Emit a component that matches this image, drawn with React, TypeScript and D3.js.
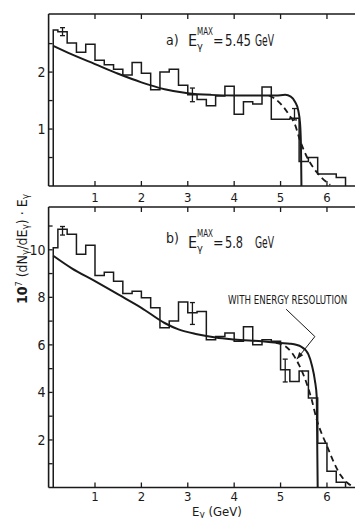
import React from 'react';
import * as d3 from 'd3';

const W = 355;
const H = 518;

// Bin edges of the measured photon spectra (GeV)
const binEdges = [
  0.1, 0.2, 0.4, 0.6, 0.8, 1.0, 1.2, 1.4, 1.6, 1.8, 2.0, 2.2, 2.4, 2.6, 2.8, 3.0, 3.2,
  3.4, 3.6, 3.8, 4.0, 4.2, 4.4, 4.6, 4.8, 5.0, 5.2, 5.4, 5.6, 5.8, 6.0, 6.2, 6.4,
];

// a) E_max = 5.45 GeV : measured histogram
const histA = [
  2.74, 2.71, 2.51, 2.35, 2.49, 2.21, 2.13, 2.05, 1.95, 2.17, 1.98, 1.69, 2.0, 2.05, 1.77, 1.6,
  1.52, 1.41, 1.58, 1.75, 1.26, 1.48, 1.44, 1.74, 1.17, 1.17, 1.19, 0.43, 0.5, 0.21, 0.21, 0.15,
];
// b) E_max = 5.8 GeV : measured histogram
const histB = [
  10.09, 10.86, 10.65, 9.81, 10.19, 8.92, 9.06, 8.68, 8.16, 8.26, 7.98, 7.56, 6.72, 7.0, 7.8, 7.35,
  7.4, 6.22, 6.35, 6.5, 6.15, 6.76, 6.01, 6.22, 6.15, 4.95, 4.46, 4.9, 3.77, 1.86, 0.68, 0.22,
];

// Calculated spectra (solid: ideal, dashed: folded with energy resolution)
const theoryA: [number, number][] = [
  [0.1, 2.46], [0.5, 2.31], [1.0, 2.14], [1.5, 1.97], [2.0, 1.82], [2.5, 1.7], [3.0, 1.63],
  [3.5, 1.6], [4.0, 1.59], [4.5, 1.59], [4.9, 1.59], [5.1, 1.6], [5.22, 1.57], [5.31, 1.48],
  [5.38, 1.33], [5.42, 1.1], [5.44, 0.69], [5.45, 0],
];
const resolvedA: [number, number][] = [
  [4.75, 1.59], [4.9, 1.52], [5.05, 1.4], [5.2, 1.23], [5.3, 1.1], [5.42, 0.8], [5.55, 0.54],
  [5.7, 0.33], [5.88, 0.15], [6.07, 0.02],
];
const theoryB: [number, number][] = [
  [0.1, 9.75], [0.5, 9.22], [1.0, 8.68], [1.5, 8.12], [2.0, 7.56], [2.5, 6.92], [2.8, 6.65],
  [3.2, 6.45], [3.6, 6.31], [4.0, 6.23], [4.6, 6.15], [5.0, 6.08], [5.2, 6.05], [5.45, 5.92],
  [5.6, 5.6], [5.68, 5.1], [5.74, 4.5], [5.78, 3.8], [5.8, 0],
];
const resolvedB: [number, number][] = [
  [4.9, 6.08], [5.1, 5.95], [5.25, 5.65], [5.4, 5.15], [5.55, 4.45], [5.67, 3.7], [5.78, 2.85],
  [5.9, 2.2], [6.0, 1.75], [6.15, 1.05], [6.3, 0.5], [6.45, 0.18], [6.58, 0.02],
];

// Statistical error bars: [E, value, half-width]
const errorsA: [number, number, number][] = [[0.3, 2.71, 0.07], [3.1, 1.6, 0.12], [5.3, 1.26, 0.1]];
const errorsB: [number, number, number][] = [[0.3, 10.8, 0.18], [3.1, 7.32, 0.46], [5.1, 4.92, 0.48]];

const xTicks = [1, 2, 3, 4, 5, 6];
const yTicksA = [0.5, 1, 1.5, 2, 2.5];
const yLabelsA = [1, 2];
const yTicksB = [1, 2, 3, 4, 5, 6, 7, 8, 9, 10, 11];
const yLabelsB = [2, 4, 6, 8, 10];

// Annotation polyline in panel b data units (text end -> bend -> arrow tip)
const annotB: [number, number][] = [[5.12, 7.5], [5.74, 6.35], [5.35, 5.4]];

const FONT = "'Liberation Sans Narrow', 'DejaVu Sans Condensed', 'Roboto Condensed', sans-serif";
const INK = '#1a1a1a';

const x = d3.scaleLinear().domain([0, 6.6]).range([48.6, 354.8]);

type Scale = d3.ScaleLinear<number, number>;

function histPath(vals: number[], y: Scale) {
  const pts: [number, number][] = [[binEdges[0], 0]];
  vals.forEach((v, i) => {
    pts.push([binEdges[i], v], [binEdges[i + 1], v]);
  });
  pts.push([binEdges[binEdges.length - 1], 0]);
  return d3.line<[number, number]>().x((d) => x(d[0])).y((d) => y(d[1]))(pts) || '';
}

function curvePath(pts: [number, number][], y: Scale) {
  return (
    d3
      .line<[number, number]>()
      .x((d) => x(d[0]))
      .y((d) => y(d[1]))
      .curve(d3.curveMonotoneX)(pts) || ''
  );
}

function Panel(props: {
  y: Scale;
  hist: number[];
  theory: [number, number][];
  resolved: [number, number][];
  errors: [number, number, number][];
  yTicks: number[];
  yLabels: number[];
}) {
  const { y, hist, theory, resolved, errors, yTicks, yLabels } = props;
  const [y0, y1] = y.range();
  const x0 = x(0);
  return (
    <g>
      {/* frame */}
      <line x1={x0} x2={x0} y1={y1} y2={y0} stroke={INK} strokeWidth={1.6} />
      <line x1={x0} x2={W + 5} y1={y1} y2={y1} stroke={INK} strokeWidth={1.6} />
      <line x1={x0} x2={W + 5} y1={y0} y2={y0} stroke={INK} strokeWidth={1.6} />
      {xTicks.map((t) => (
        <g key={'xt' + t}>
          <line x1={x(t)} x2={x(t)} y1={y0} y2={y0 - 5} stroke={INK} strokeWidth={1.3} />
          <line x1={x(t)} x2={x(t)} y1={y1} y2={y1 + 5} stroke={INK} strokeWidth={1.3} />
        </g>
      ))}
      {yTicks.map((t) => (
        <line key={'yt' + t} x1={x0} x2={x0 + 4} y1={y(t)} y2={y(t)} stroke={INK} strokeWidth={1.3} />
      ))}
      {yLabels.map((t) => (
        <text
          key={'yl' + t}
          x={x0 - 3}
          y={y(t)}
          dy="0.36em"
          textAnchor="end"
          fontFamily={FONT}
          fontSize={14}
          fill={INK}
        >
          {t}
        </text>
      ))}
      {/* measured histogram */}
      <path d={histPath(hist, y)} fill="none" stroke={INK} strokeWidth={1.5} strokeLinejoin="miter" />
      {/* calculated spectra */}
      <path d={curvePath(theory, y)} fill="none" stroke={INK} strokeWidth={2} />
      <path d={curvePath(resolved, y)} fill="none" stroke={INK} strokeWidth={1.8} strokeDasharray="6 4" />
      {errors.map(([e, v, s], i) => (
        <g key={'err' + i} stroke={INK} strokeWidth={1.3}>
          <line x1={x(e)} x2={x(e)} y1={y(v - s)} y2={y(v + s)} />
          <line x1={x(e) - 2.5} x2={x(e) + 2.5} y1={y(v - s)} y2={y(v - s)} />
          <line x1={x(e) - 2.5} x2={x(e) + 2.5} y1={y(v + s)} y2={y(v + s)} />
        </g>
      ))}
    </g>
  );
}

function Title(props: { tag: string; value: string; valueLen: number; base: number; tagBase: number }) {
  const { tag, value, valueLen, base, tagBase } = props;
  return (
    <g fontFamily={FONT} fill={INK}>
      <text x={166} y={tagBase} fontSize={14}>{tag}</text>
      <text x={188} y={base} fontSize={16}>E</text>
      <text x={197} y={base - 11} fontSize={10} textLength={16} lengthAdjust="spacingAndGlyphs">MAX</text>
      <text x={197} y={base + 4} fontSize={11}>γ</text>
      <text x={213} y={base} fontSize={14}>=</text>
      <text x={225} y={base} fontSize={16} textLength={valueLen} lengthAdjust="spacingAndGlyphs">{value}</text>
      <text x={255} y={base} fontSize={16} textLength={19} lengthAdjust="spacingAndGlyphs">GeV</text>
    </g>
  );
}

export default function App() {
  const yA = d3.scaleLinear().domain([0, 3.02]).range([186, 14]);
  const yB = d3.scaleLinear().domain([0, 11.8]).range([487.5, 207]);

  const annot = annotB.map(([e, v]) => [x(e), yB(v)] as [number, number]);
  const tip = annot[annot.length - 1];
  const prev = annot[annot.length - 2];
  const ang = Math.atan2(tip[1] - prev[1], tip[0] - prev[0]);
  const ah = 7;
  const aw = 2.6;
  const head = [
    tip,
    [tip[0] - ah * Math.cos(ang) + aw * Math.sin(ang), tip[1] - ah * Math.sin(ang) - aw * Math.cos(ang)],
    [tip[0] - ah * Math.cos(ang) - aw * Math.sin(ang), tip[1] - ah * Math.sin(ang) + aw * Math.cos(ang)],
  ];

  return (
    <svg
      width={W}
      height={H}
      viewBox={`0 0 ${W} ${H}`}
      style={{ position: 'absolute', left: 0, top: 0, background: '#fff' }}
    >
      <rect width={W} height={H} fill="#fff" />
      <Panel y={yA} hist={histA} theory={theoryA} resolved={resolvedA} errors={errorsA} yTicks={yTicksA} yLabels={yLabelsA} />
      <Panel y={yB} hist={histB} theory={theoryB} resolved={resolvedB} errors={errorsB} yTicks={yTicksB} yLabels={yLabelsB} />

      {/* x tick labels under each panel */}
      {xTicks.map((t) => (
        <text key={'xa' + t} x={x(t)} y={202} textAnchor="middle" fontFamily={FONT} fontSize={13} fill={INK}>{t}</text>
      ))}
      {xTicks.map((t) => (
        <text key={'xb' + t} x={x(t)} y={501} textAnchor="middle" fontFamily={FONT} fontSize={13} fill={INK}>{t}</text>
      ))}

      <Title tag="a)" value="5.45" valueLen={26} base={46} tagBase={45} />
      <Title tag="b)" value="5.8" valueLen={18} base={248} tagBase={243} />

      {/* annotation, condensed horizontally */}
      <g transform="translate(228,304) scale(0.84,1)">
        <text x={0} y={0} fontFamily={FONT} fontSize={11.5} fill={INK}>
          WITH  ENERGY RESOLUTION
        </text>
      </g>
      <polyline points={annot.map((p) => p.join(',')).join(' ')} fill="none" stroke={INK} strokeWidth={1} />
      <polygon points={head.map((p) => p.join(',')).join(' ')} fill={INK} />

      {/* axis titles */}
      <text x={192} y={516} fontFamily={FONT} fontSize={13} fill={INK}>
        E<tspan fontSize={10} dy={1.5}>γ</tspan>
        <tspan dy={-1.5}> (GeV)</tspan>
      </text>
      <g transform="translate(27,249) rotate(-90)">
        <text textAnchor="middle" fontFamily={FONT} fontSize={14} fill={INK}>
          <tspan fontWeight="bold">10</tspan>
          <tspan fontSize={9} dy={-5}>7</tspan>
          <tspan dy={5}> (dN</tspan>
          <tspan fontSize={10} dy={2}>γ</tspan>
          <tspan dy={-2}>/dE</tspan>
          <tspan fontSize={10} dy={2}>γ</tspan>
          <tspan dy={-2}>) · E</tspan>
          <tspan fontSize={10} dy={2}>γ</tspan>
        </text>
      </g>
    </svg>
  );
}
